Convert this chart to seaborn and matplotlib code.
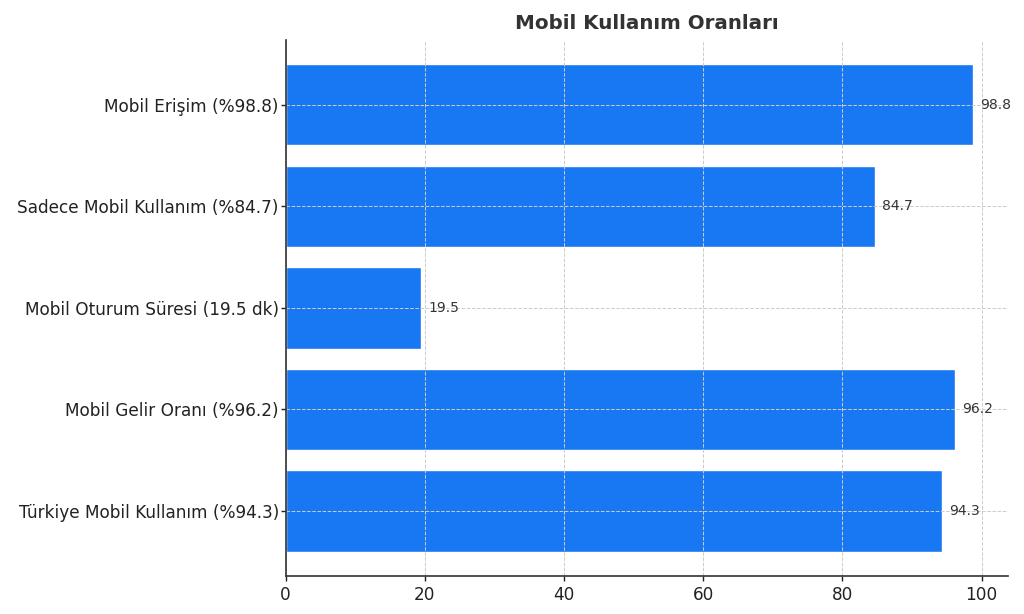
import matplotlib
matplotlib.use("Agg")
import matplotlib.pyplot as plt
import seaborn as sns
import pandas as pd

categories = [
    "Mobil Erişim (%98.8)",
    "Sadece Mobil Kullanım (%84.7)",
    "Mobil Oturum Süresi (19.5 dk)",
    "Mobil Gelir Oranı (%96.2)",
    "Türkiye Mobil Kullanım (%94.3)",
]
values = [98.8, 84.7, 19.5, 96.2, 94.3]

df = pd.DataFrame({"label": categories, "value": values})

sns.set_style("white")
plt.rcParams["font.family"] = ["DejaVu Sans"]

fig, ax = plt.subplots(figsize=(10.24, 6.14), dpi=100)
sns.barplot(data=df, x="value", y="label", color="#1877F2", saturation=1,
            width=0.8, orient="h", ax=ax)

for i, v in enumerate(values):
    ax.text(v + 1, i, f"{v}", va="center", ha="left", fontsize=10, color="#333333")

ax.set_xlim(0, max(values) * 1.05)
ax.set_ylim(len(values) - 1 + 0.64, -0.64)
ax.set_title("Mobil Kullanım Oranları", fontsize=14.3, fontweight="bold",
             color="#333333", pad=8)
ax.set_xlabel("")
ax.set_ylabel("")
ax.tick_params(axis="both", labelsize=12.2, colors="#222222", length=3.5, width=1,
               left=True, bottom=True)
ax.tick_params(axis="y", pad=1.5)
ax.grid(True, linestyle="--", color="#cccccc", linewidth=0.7)
ax.set_axisbelow(False)
sns.despine(ax=ax)
for s in ["left", "bottom"]:
    ax.spines[s].set_color("#333333")
    ax.spines[s].set_linewidth(1.2)
    ax.spines[s].set_zorder(5)

plt.subplots_adjust(left=0.279, right=0.984, top=0.935, bottom=0.062)
plt.savefig("out.png", dpi=100)
